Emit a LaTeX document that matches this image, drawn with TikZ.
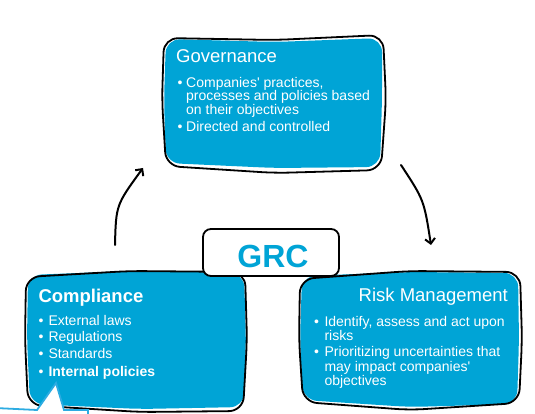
\documentclass[tikz,border=0pt]{standalone}
\usepackage{fontspec}
\setmainfont{Liberation Sans}
\newfontfamily\arialf{Liberation Sans}
\usetikzlibrary{arrows.meta}
\definecolor{grcblue}{RGB}{0,164,214}
\definecolor{calloutblue}{RGB}{45,172,226}
\begin{document}
\begin{tikzpicture}[x=1pt,y=-1pt,
  boxfill/.style={fill=grcblue, rounded corners=14pt},
  boxline/.style={draw=black, line width=1.8pt, rounded corners=14pt},
  titletxt/.style={inner sep=0, text=white, font=\arialf\fontsize{18.5}{18.5}\selectfont},
  itemtxt/.style={anchor=base west, inner sep=0, text=white, font=\arialf\fontsize{14}{14}\selectfont},
  dottxt/.style={anchor=base west, inner sep=0, text=white, font=\arialf\fontsize{14}{14}\selectfont},
  flow/.style={line width=2pt, line cap=round, -{Straight Barb[length=5pt,width=10pt]}},
  grcbox/.style={draw=black, fill=white, line width=1.8pt, rounded corners=8pt, minimum width=136pt, minimum height=47pt, inner sep=0},
  grclabel/.style={inner sep=0, text=grcblue, font=\arialf\fontsize{32}{32}\selectfont\bfseries},
]
\useasboundingbox (0,0) rectangle (535,414);
\clip (0,0) rectangle (535,414);

% ---------- Governance box
\path[boxfill] (166,39) -- (275,42) -- (382,38) -- (382,100) -- (380,167) -- (275,168) -- (166,163) -- (164,100) -- cycle;
\path[boxline] (164,38) -- (275,40) -- (383,35) -- (386,100) -- (381,170) -- (275,173) -- (166,166) -- (162,100) -- cycle;
\node[titletxt, anchor=base west] (govtitle) at (176,62.7) {Governance};
\node[dottxt] (gb1) at (177.5,87.3) {•};
\node[itemtxt] (g1a) at (186,87.3) {Companies' practices,};
\node[itemtxt] (g1b) at (186,101) {processes and policies based};
\node[itemtxt] (g1c) at (186,114.5) {on their objectives};
\node[dottxt] (gb2) at (177.5,131.7) {•};
\node[itemtxt] (g2a) at (186,131.7) {Directed and controlled};

% ---------- arrows
\coordinate (cstart) at (115,245);
\coordinate (gend) at (143,168);
\coordinate (gstart) at (401,165);
\coordinate (rend) at (431,245);
\draw[flow] (cstart) .. controls (116,205) .. (gend);
\draw[flow] (gstart) .. controls (424,200) .. (rend);

% ---------- Compliance box
\path[boxfill] (28,275) -- (130,271) -- (244,273) -- (246,340) -- (244,407) -- (140,409) -- (30,404) -- (27,340) -- cycle;
\path[boxline] (26,277) -- (130,271) -- (245,272) -- (247,340) -- (243,411) -- (140,412) -- (28,405) -- (25,340) -- cycle;
\node[titletxt, anchor=base west, font=\arialf\fontsize{18.5}{18.5}\selectfont\bfseries] (comptitle) at (38.3,302.5) {Compliance};
\node[dottxt] (cb1) at (38.5,325) {•};
\node[itemtxt] (c1) at (48.3,325) {External laws};
\node[dottxt] (cb2) at (38.5,341.7) {•};
\node[itemtxt] (c2) at (48.3,341.7) {Regulations};
\node[dottxt] (cb3) at (38.5,358.3) {•};
\node[itemtxt] (c3) at (48.3,358.3) {Standards};
\node[dottxt] (cb4) at (38.5,376) {•};
\node[itemtxt, font=\arialf\fontsize{14}{14}\selectfont\bfseries] (c4) at (48.3,376) {Internal policies};

% ---------- Risk Management box
\path[boxfill] (302,276) -- (410,272) -- (518,273) -- (519,340) -- (517,404) -- (410,407) -- (303,400) -- (300,340) -- cycle;
\path[boxline] (300,279) -- (410,271) -- (520,272) -- (522,340) -- (519,403) -- (410,410) -- (303,402) -- (299,340) -- cycle;
\node[titletxt, anchor=base east] (risktitle) at (508,301.5) {Risk Management};
\node[dottxt] (rb1) at (314,326) {•};
\node[itemtxt] (r1a) at (324.3,326) {Identify, assess and act upon};
\node[itemtxt] (r1b) at (324.3,340) {risks};
\node[dottxt] (rb2) at (314,356.7) {•};
\node[itemtxt] (r2a) at (324.3,356.7) {Prioritizing uncertainties that};
\node[itemtxt] (r2b) at (324.3,371) {may impact companies'};
\node[itemtxt] (r2c) at (324.3,385) {objectives};

% ---------- GRC box
\node[grcbox] (grc) at (271,252.5) {};
\node[grclabel, anchor=base] (grclbl) at (273,267) {GRC};

% ---------- callout fragment
\path[draw=calloutblue, line width=1.8pt, fill=white] (-5,408) -- (37,410) -- (56,383) -- (64,410) -- (88,410) -- (88,425) -- (-5,425) -- cycle;
\end{tikzpicture}
\end{document}
